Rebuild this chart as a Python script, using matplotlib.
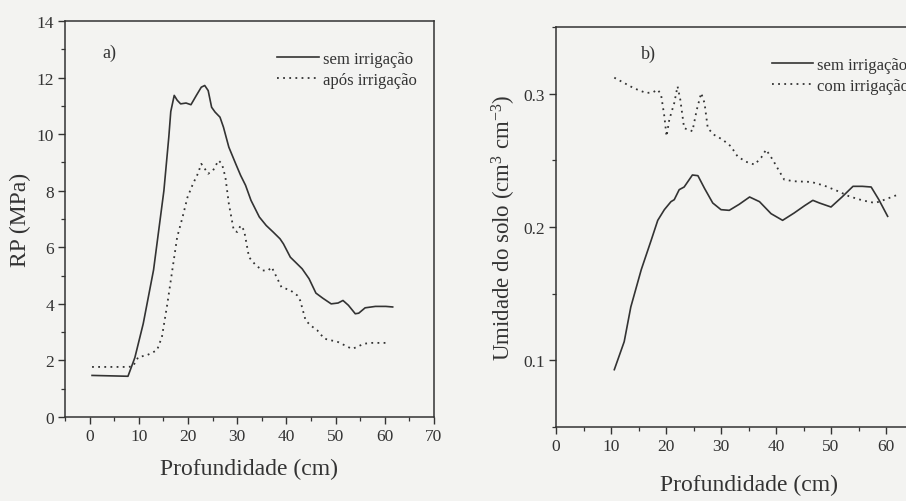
import matplotlib
matplotlib.use("Agg")
import matplotlib.pyplot as plt
from matplotlib.ticker import MultipleLocator

plt.rcParams['font.family'] = ['Liberation Serif', 'DejaVu Serif']
plt.rcParams['mathtext.fontset'] = 'custom'
plt.rcParams['mathtext.rm'] = 'Liberation Serif'
plt.rcParams['mathtext.it'] = 'Liberation Serif:italic'

# ---- Panel a: penetration resistance ----
a_sem_x = [0.5, 7.8, 9.2, 10.9, 13.0, 15.1, 16.1, 16.5, 17.2, 17.8, 18.5, 19.6, 20.6,
           21.7, 22.7, 23.4, 24.1, 24.8, 25.5, 26.5, 27.2, 28.3, 29.7, 30.7, 31.7,
           32.8, 34.5, 35.9, 37.3, 38.7, 39.4, 40.8, 41.8, 43.2, 44.6, 46.0, 47.4,
           49.1, 50.5, 51.5, 52.6, 54.0, 54.7, 56.0, 58.1, 60.2, 61.6]
a_sem_y = [1.47, 1.44, 2.1, 3.3, 5.2, 8.0, 9.9, 10.8, 11.37, 11.2, 11.07, 11.1, 11.04,
           11.37, 11.66, 11.72, 11.54, 10.95, 10.78, 10.6, 10.25, 9.54, 8.95, 8.54, 8.19,
           7.66, 7.07, 6.77, 6.54, 6.30, 6.12, 5.65, 5.48, 5.24, 4.89, 4.38, 4.2,
           4.0, 4.03, 4.12, 3.95, 3.65, 3.67, 3.86, 3.91, 3.91, 3.89]

a_apos_x = [0.5, 7.8, 8.8, 9.9, 11.6, 13.7, 14.7, 15.8, 16.8, 17.8, 18.9, 19.9, 21.0,
            22.0, 22.7, 23.4, 24.1, 25.1, 26.2, 26.9, 27.6, 28.3, 29.3, 30.0, 30.7,
            31.4, 32.4, 33.8, 35.2, 36.3, 37.0, 38.0, 39.0, 40.8, 42.2, 42.8, 43.9,
            44.9, 46.3, 47.7, 49.1, 50.5, 51.9, 53.3, 54.3, 55.7, 57.4, 60.2]
a_apos_y = [1.77, 1.77, 1.79, 2.12, 2.18, 2.36, 2.83, 4.0, 5.18, 6.36, 7.07, 7.77, 8.24,
            8.6, 8.95, 8.78, 8.6, 8.72, 9.07, 8.95, 8.48, 7.54, 6.6, 6.54, 6.77,
            6.6, 5.65, 5.36, 5.18, 5.18, 5.3, 4.95, 4.59, 4.48, 4.3, 4.12, 3.42,
            3.24, 3.06, 2.77, 2.71, 2.65, 2.53, 2.41, 2.47, 2.59, 2.62, 2.62]

# ---- Panel b: soil moisture ----
b_sem_x = [10.6, 12.4, 13.6, 15.5, 17.3, 18.5, 19.7, 20.9, 21.5, 22.4, 23.3, 24.8,
           25.8, 27.0, 28.5, 30.0, 31.5, 33.3, 35.2, 37.0, 39.1, 41.2, 43.3, 45.2,
           46.7, 47.9, 50.0, 52.0, 54.0, 55.7, 57.3, 58.7, 60.3]
b_sem_y = [0.093, 0.114, 0.140, 0.168, 0.190, 0.205, 0.213, 0.219, 0.2205, 0.228, 0.230,
           0.239, 0.2385, 0.229, 0.218, 0.213, 0.2125, 0.217, 0.2225, 0.219, 0.210,
           0.205, 0.2105, 0.216, 0.220, 0.218, 0.215, 0.2225, 0.2305, 0.2305, 0.230,
           0.2205, 0.208]

b_com_x = [10.6, 12.4, 14.2, 16.4, 17.6, 18.5, 19.1, 19.7, 20.1, 20.6, 21.5, 22.1,
           22.6, 23.3, 24.2, 24.8, 25.6, 26.4, 27.0, 27.6, 28.8, 30.3, 31.8, 33.0,
           34.5, 36.1, 37.3, 38.2, 39.4, 40.6, 41.5, 43.3, 46.4, 48.8, 51.3, 53.3,
           55.7, 58.0, 59.3, 62.0]
b_com_y = [0.312, 0.308, 0.304, 0.3005, 0.301, 0.303, 0.2993, 0.283, 0.268, 0.2805,
           0.293, 0.3055, 0.2955, 0.274, 0.273, 0.2718, 0.288, 0.3005, 0.293, 0.274,
           0.269, 0.2655, 0.2605, 0.253, 0.249, 0.2468, 0.252, 0.258, 0.2505, 0.2418,
           0.2355, 0.2343, 0.2338, 0.231, 0.2268, 0.223, 0.220, 0.218, 0.2198, 0.224]

a_labels = ['sem irrigação', 'após irrigação']
b_labels = ['sem irrigação', 'com irrigação']

bg = '#f3f3f1'
ink = '#333333'

fig = plt.figure(figsize=(9.06, 5.02), dpi=100, facecolor=bg)

dot_style = (0, (1.0, 2.4))

# Panel a
ax1 = fig.add_axes([65/906, 1-418/502, 369/906, 396/502], facecolor=bg)
ax1.plot(a_sem_x, a_sem_y, color=ink, lw=1.2, label=a_labels[0])
ax1.plot(a_apos_x, a_apos_y, color=ink, lw=1.3, linestyle=dot_style, label=a_labels[1])
ax1.set_xlim(-5, 70)
ax1.set_ylim(0, 14)
ax1.xaxis.set_major_locator(MultipleLocator(10))
ax1.xaxis.set_minor_locator(MultipleLocator(5))
ax1.yaxis.set_major_locator(MultipleLocator(2))
ax1.yaxis.set_minor_locator(MultipleLocator(1))
ax1.set_xlabel('Profundidade (cm)', fontsize=17, color=ink, labelpad=10)
ax1.set_ylabel('RP (MPa)', fontsize=17, color=ink, labelpad=4)
ax1.text(0.10, 0.92, 'a)', transform=ax1.transAxes, fontsize=13, color=ink,
         ha='left', va='center')
ax1.legend(loc='upper left', bbox_to_anchor=(0.575, 0.925), frameon=False,
           fontsize=12, handlelength=2.5, handletextpad=0.25, borderpad=0,
           borderaxespad=0, labelspacing=0.3, labelcolor=ink)

# Panel b
ax2 = fig.add_axes([556/906, 1-428/502, 385/906, 400/502], facecolor=bg)
ax2.plot(b_sem_x, b_sem_y, color=ink, lw=1.2, label=b_labels[0])
ax2.plot(b_com_x, b_com_y, color=ink, lw=1.3, linestyle=dot_style, label=b_labels[1])
ax2.set_xlim(0, 70)
ax2.set_ylim(0.05, 0.35)
ax2.xaxis.set_major_locator(MultipleLocator(10))
ax2.xaxis.set_minor_locator(MultipleLocator(5))
ax2.yaxis.set_major_locator(MultipleLocator(0.1))
ax2.yaxis.set_minor_locator(MultipleLocator(0.05))
ax2.set_xticks([0, 10, 20, 30, 40, 50, 60])
ax2.set_xlabel('Profundidade (cm)', fontsize=17, color=ink, labelpad=14)
ax2.set_ylabel(r'Umidade do solo (cm$^3$ cm$^{-3}$)', fontsize=16.5, color=ink, labelpad=4)
ax2.text(0.22, 0.935, 'b)', transform=ax2.transAxes, fontsize=13, color=ink,
         ha='left', va='center')
ax2.legend(loc='upper left', bbox_to_anchor=(0.56, 0.925), frameon=False,
           fontsize=12, handlelength=2.5, handletextpad=0.25, borderpad=0,
           borderaxespad=0, labelspacing=0.3, labelcolor=ink)

for ax in (ax1, ax2):
    for s in ax.spines.values():
        s.set_color(ink)
        s.set_linewidth(1.1)
    ax.tick_params(which='major', direction='out', length=5, width=1.0,
                   labelsize=12.5, colors=ink, pad=3)
    ax.tick_params(which='minor', direction='out', length=3, width=0.9, colors=ink)
    ax.tick_params(axis='both', which='both', top=False, right=False)

fig.savefig('out.png', dpi=100, facecolor=bg)
